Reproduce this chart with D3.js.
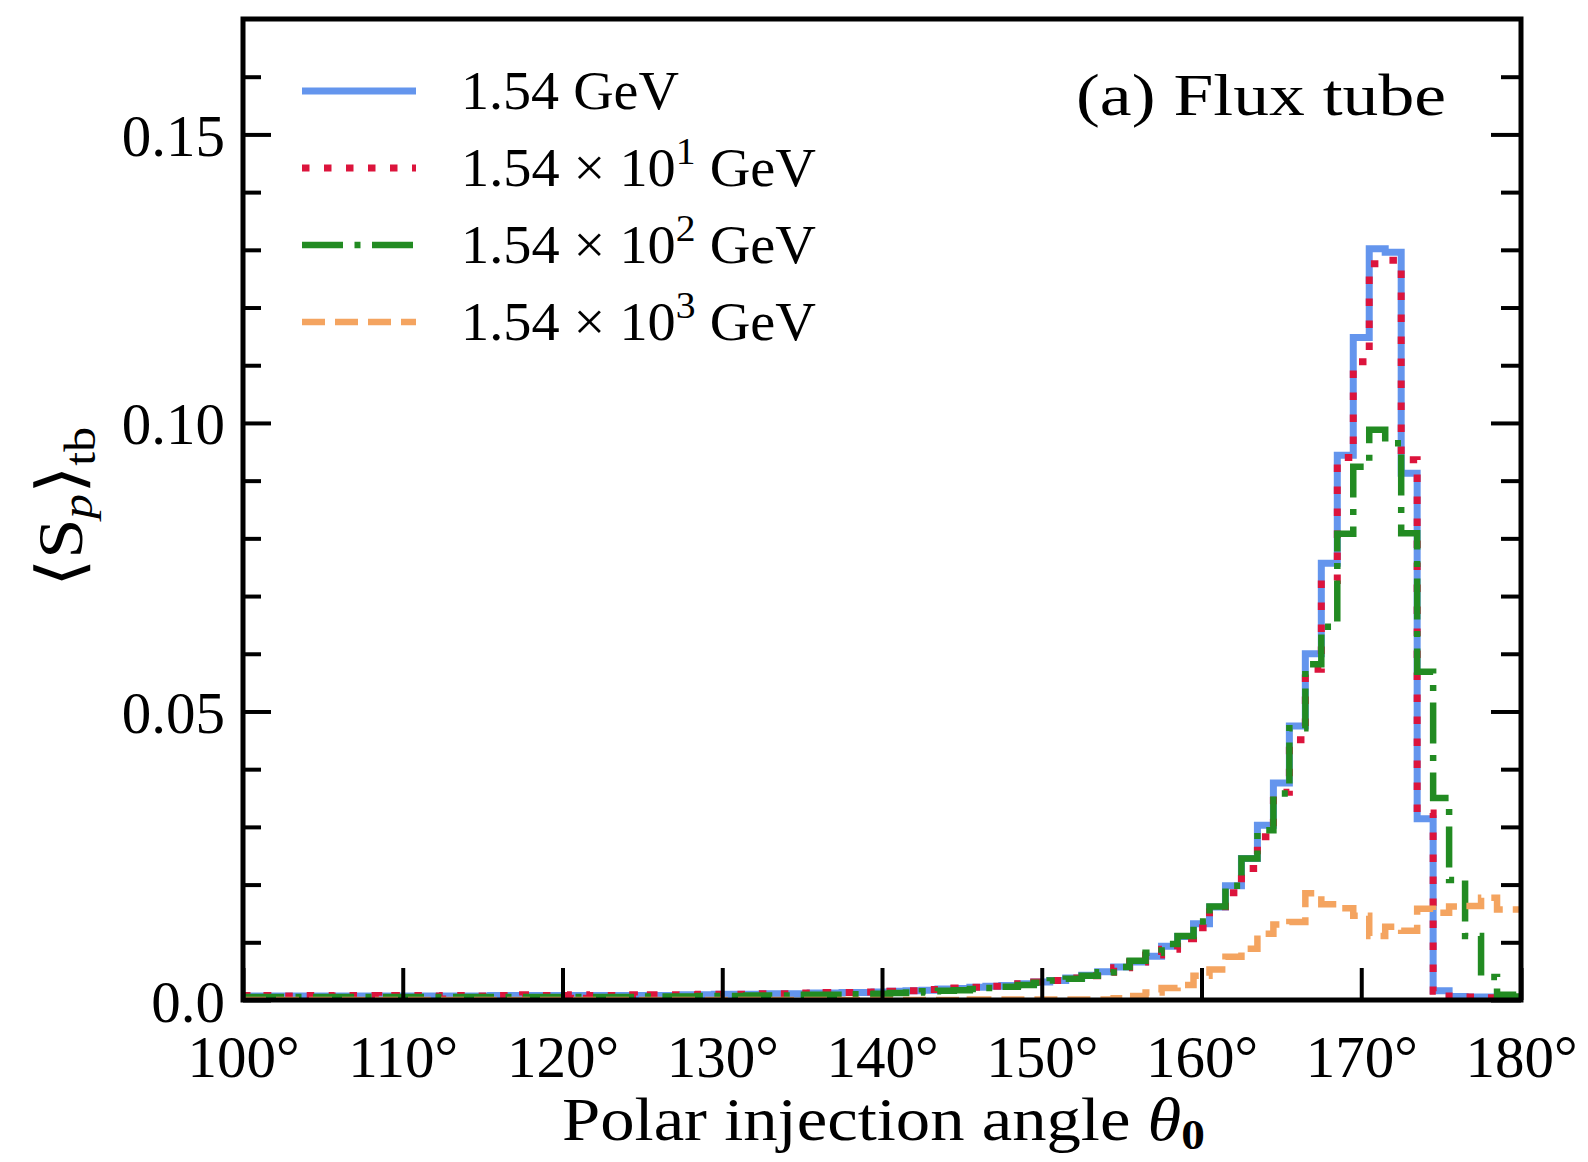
<!DOCTYPE html>
<html><head><meta charset="utf-8">
<script src="https://cdn.jsdelivr.net/npm/d3@7"></script>
<style>html,body{margin:0;padding:0;background:#fff;} svg{display:block;}</style>
</head><body>
<svg id="chart" width="1588" height="1162"></svg>
<script>
// ---------- data ----------
const angles = [100,101,102,103,104,105,106,107,108,109,110,111,112,113,114,115,116,117,118,119,
  120,121,122,123,124,125,126,127,128,129,130,131,132,133,134,135,136,137,138,139,
  140,141,142,143,144,145,146,147,148,149,150,151,152,153,154,155,156,157,158,159,
  160,161,162,163,164,165,166,167,168,169,170,171,172,173,174,175,176,177,178,179,180];

const sp_1_54 = [0.0007,0.0007,0.0007,0.0007,0.0007,0.0007,0.0007,0.0007,0.0007,0.0007,
  0.0007,0.0007,0.0007,0.0007,0.0007,0.0007,0.0008,0.0008,0.0008,0.0008,
  0.0008,0.0008,0.0008,0.0008,0.0008,0.0008,0.0008,0.0008,0.0009,0.0009,
  0.0010,0.0010,0.0010,0.0011,0.0011,0.0011,0.0012,0.0012,0.0013,0.0013,
  0.0014,0.0015,0.0016,0.0017,0.0019,0.0020,0.0022,0.0024,0.0025,0.0028,
  0.0031,0.0034,0.0038,0.0043,0.0049,0.0057,0.0066,0.0076,0.0093,0.0110,
  0.0132,0.0161,0.0198,0.0245,0.0303,0.0376,0.0475,0.0600,0.0757,0.0944,
  0.1148,0.1302,0.1296,0.0913,0.0314,0.0016,0.0006,0.0005,0.0005,0.0004,0.0004];

const sp_1_54e1 = [0.0008,0.0007,0.0008,0.0007,0.0008,0.0008,0.0007,0.0008,0.0008,0.0007,
  0.0008,0.0008,0.0007,0.0008,0.0008,0.0007,0.0008,0.0008,0.0009,0.0008,
  0.0008,0.0009,0.0008,0.0008,0.0009,0.0008,0.0009,0.0009,0.0009,0.0010,
  0.0010,0.0010,0.0011,0.0011,0.0011,0.0012,0.0012,0.0013,0.0013,0.0014,
  0.0014,0.0015,0.0016,0.0018,0.0019,0.0021,0.0022,0.0024,0.0026,0.0028,
  0.0031,0.0034,0.0038,0.0042,0.0048,0.0056,0.0066,0.0078,0.0088,0.0106,
  0.0125,0.0153,0.0186,0.0228,0.0283,0.0360,0.0451,0.0573,0.0727,0.0940,
  0.1106,0.1276,0.1282,0.0936,0.0324,0.0015,0.0006,0.0005,0.0004,0.0004,0.0004];

const sp_1_54e2 = [0.0005,0.0005,0.0005,0.0005,0.0005,0.0005,0.0005,0.0005,0.0005,0.0005,
  0.0005,0.0005,0.0005,0.0005,0.0005,0.0005,0.0005,0.0005,0.0005,0.0005,
  0.0005,0.0005,0.0005,0.0005,0.0005,0.0006,0.0006,0.0006,0.0006,0.0007,
  0.0007,0.0007,0.0008,0.0008,0.0008,0.0009,0.0009,0.0009,0.0010,0.0010,
  0.0011,0.0012,0.0013,0.0015,0.0016,0.0017,0.0019,0.0021,0.0023,0.0026,
  0.0030,0.0034,0.0037,0.0042,0.0048,0.0057,0.0068,0.0082,0.0097,0.0111,
  0.0136,0.0162,0.0198,0.0245,0.0294,0.0358,0.0471,0.0582,0.0647,0.0808,
  0.0924,0.0988,0.0965,0.0809,0.0569,0.0350,0.0208,0.0111,0.0040,0.0009,0.0006];

const sp_1_54e3 = [0,0,0,0,0,0,0,0,0,0,
  0,0,0,0,0,0,0,0,0,0,
  0,0,0,0,0,0,0,0,0,0,
  0,0,0,0,0,0,0,0,0,0,
  0,0,0,0,0,0,0.0001,0.0001,0.0001,0.0001,
  0.0001,0.0001,0.0001,0.0001,0.0001,0.0003,0.0007,0.0013,0.0021,0.0026,
  0.0042,0.0053,0.0075,0.0089,0.0115,0.0131,0.0135,0.0185,0.0166,0.0159,
  0.0146,0.0111,0.0127,0.0120,0.0158,0.0151,0.0162,0.0163,0.0177,0.0157,0.0157];

const xTicks = [100,110,120,130,140,150,160,170,180];
const xTickLabels = ["100°","110°","120°","130°","140°","150°","160°","170°","180°"];
const yMajorTicks = [0,0.05,0.10,0.15];
const yTickLabels = ["0.0","0.05","0.10","0.15"];
const yMinorTicks = [0.01,0.02,0.03,0.04,0.06,0.07,0.08,0.09,0.11,0.12,0.13,0.14,0.16];
const legendMantissa = ["1.54","1.54","1.54","1.54"];
const legendExponent = [null,"1","2","3"];

// ---------- styles ----------
const seriesValues = [sp_1_54, sp_1_54e1, sp_1_54e2, sp_1_54e3];
const seriesStyle = [
  {color:"#6495ED", width:7,   dash:null},
  {color:"#DC143C", width:7,   dash:"7.5,14.5"},
  {color:"#228B22", width:6.5, dash:"41,11.5,6,11.5"},
  {color:"#F4A460", width:6.5, dash:"23,10"}
];
const FONT = "'Liberation Serif','DejaVu Serif','DejaVu Sans',serif";

const L = 243, R = 1521, T = 19, B = 1000;
const svg = d3.select("#chart");
svg.append("rect").attr("width",1588).attr("height",1162).attr("fill","#fff");

const x = d3.scaleLinear().domain([100,180]).range([L,R]);
const y = d3.scaleLinear().domain([0,0.17]).range([B,T]);

svg.append("defs").append("clipPath").attr("id","plotclip")
  .append("rect").attr("x",L).attr("y",T).attr("width",R-L).attr("height",B-T);

const line = d3.line().x((d,i)=>x(angles[i])).y(d=>y(d)).curve(d3.curveStep);

const gl = svg.append("g").attr("clip-path","url(#plotclip)");
seriesValues.forEach((vals,k)=>{
  const s = seriesStyle[k];
  gl.append("path").datum(vals).attr("d",line)
    .attr("fill","none").attr("stroke",s.color).attr("stroke-width",s.width)
    .attr("stroke-linejoin","miter").attr("stroke-linecap","butt")
    .attr("stroke-dasharray",s.dash);
});

// ---------- axes ----------
function styleAxis(g){
  g.select(".domain").remove();
  g.selectAll(".tick line").attr("stroke","#000").attr("stroke-width",4);
  g.attr("font-family",FONT).attr("font-size",59);
  g.selectAll("text").attr("fill","#000");
}
const gx = svg.append("g").attr("transform",`translate(0,${B})`)
  .call(d3.axisBottom(x).tickValues(xTicks).tickSizeInner(-32).tickSizeOuter(0)
        .tickFormat((d,i)=>xTickLabels[i]));
styleAxis(gx);
gx.selectAll("text").attr("y",77).attr("dy",null);

const gyl = svg.append("g").attr("transform",`translate(${L},0)`)
  .call(d3.axisLeft(y).tickValues(yMajorTicks).tickSizeInner(-28).tickSizeOuter(0)
        .tickFormat((d,i)=>yTickLabels[i]));
styleAxis(gyl);
gyl.selectAll("text").attr("x",-18).attr("dy",null).attr("y",21).attr("text-anchor","end");

const gylm = svg.append("g").attr("transform",`translate(${L},0)`)
  .call(d3.axisLeft(y).tickValues(yMinorTicks).tickSizeInner(-18).tickSizeOuter(0).tickFormat(""));
styleAxis(gylm);

const gyr = svg.append("g").attr("transform",`translate(${R},0)`)
  .call(d3.axisRight(y).tickValues(yMajorTicks).tickSizeInner(-30).tickSizeOuter(0).tickFormat(""));
styleAxis(gyr);
const gyrm = svg.append("g").attr("transform",`translate(${R},0)`)
  .call(d3.axisRight(y).tickValues(yMinorTicks).tickSizeInner(-20).tickSizeOuter(0).tickFormat(""));
styleAxis(gyrm);

// frame
svg.append("rect").attr("x",L).attr("y",T).attr("width",R-L).attr("height",B-T)
  .attr("fill","none").attr("stroke","#000").attr("stroke-width",5);

// ---------- labels ----------
const xl = svg.append("text").attr("x",562).attr("y",1140)
  .attr("font-family",FONT).attr("font-size",61).attr("fill","#000")
  .attr("textLength",643).attr("lengthAdjust","spacingAndGlyphs");
xl.append("tspan").text("Polar injection angle ");
xl.append("tspan").attr("font-style","italic").text("θ");
xl.append("tspan").attr("font-weight","bold").attr("font-size",42).attr("dy",9).text("0");

const yl = svg.append("text").attr("transform","translate(82,507) rotate(-90)")
  .attr("text-anchor","middle").attr("font-family",FONT).attr("font-size",64).attr("fill","#000")
  .attr("textLength",160).attr("lengthAdjust","spacingAndGlyphs");
yl.append("tspan").text("⟨");
yl.append("tspan").text("S");
yl.append("tspan").attr("font-style","italic").attr("font-size",44).attr("dy",10).text("p");
yl.append("tspan").attr("dy",-10).text("⟩");
yl.append("tspan").attr("font-size",44).attr("dy",13).text("tb");

// annotation
svg.append("text").attr("x",1446).attr("y",115).attr("text-anchor","end")
  .attr("font-family",FONT).attr("font-size",60).attr("fill","#000")
  .attr("textLength",370).attr("lengthAdjust","spacingAndGlyphs")
  .text("(a) Flux tube");

// ---------- legend ----------
const rowY = [91,168,245,322];
const textW = [218,355,355,355];
seriesStyle.forEach((s,k)=>{
  const yy = rowY[k];
  svg.append("line").attr("x1",302).attr("x2",416).attr("y1",yy).attr("y2",yy)
    .attr("stroke",s.color).attr("stroke-width",s.width).attr("stroke-dasharray",s.dash)
    .attr("stroke-linecap","butt");
  const t = svg.append("text").attr("x",461).attr("y",yy+18)
    .attr("font-family",FONT).attr("font-size",54).attr("fill","#000")
    .attr("textLength",textW[k]).attr("lengthAdjust","spacingAndGlyphs");
  if (legendExponent[k] === null) {
    t.append("tspan").text(legendMantissa[k] + " GeV");
  } else {
    t.append("tspan").text(legendMantissa[k] + " × 10");
    t.append("tspan").attr("font-size",38).attr("dy",-22).text(legendExponent[k]);
    t.append("tspan").attr("dy",22).text(" GeV");
  }
});
</script>
</body></html>
